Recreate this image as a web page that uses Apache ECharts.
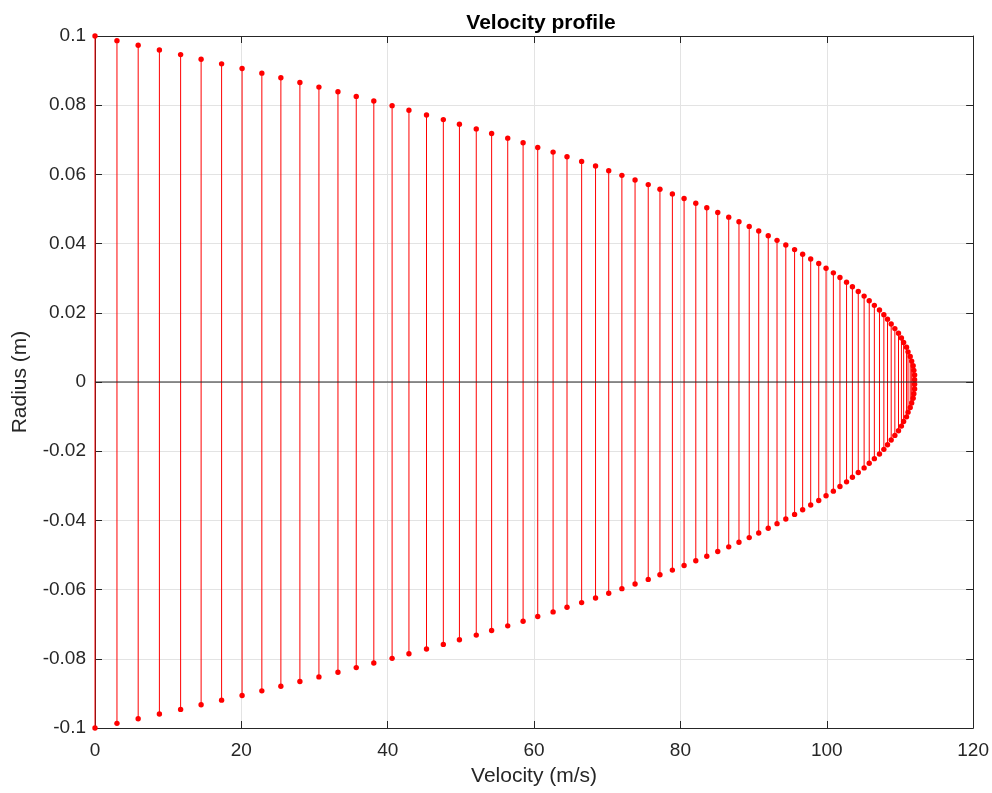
<!DOCTYPE html>
<html>
<head>
<meta charset="utf-8">
<script src="https://cdn.jsdelivr.net/npm/echarts@6/dist/echarts.min.js"></script>
<style>
html,body{margin:0;padding:0;background:#fff;}
#chart{width:992px;height:793px;}
</style>
</head>
<body>
<div id="chart"></div>
<script>
const radius = [0.1, 0.09866, 0.09732, 0.09597, 0.09463, 0.09329, 0.09195, 0.0906, 0.08926, 0.08792, 0.08658, 0.08523, 0.08389, 0.08255, 0.08121, 0.07987, 0.07852, 0.07718, 0.07584, 0.0745, 0.07315, 0.07181, 0.07047, 0.06913, 0.06779, 0.06644, 0.0651, 0.06376, 0.06242, 0.06107, 0.05973, 0.05839, 0.05705, 0.0557, 0.05436, 0.05302, 0.05168, 0.05034, 0.04899, 0.04765, 0.04631, 0.04497, 0.04362, 0.04228, 0.04094, 0.0396, 0.03826, 0.03691, 0.03557, 0.03423, 0.03289, 0.03154, 0.0302, 0.02886, 0.02752, 0.02617, 0.02483, 0.02349, 0.02215, 0.02081, 0.01946, 0.01812, 0.01678, 0.01544, 0.01409, 0.01275, 0.01141, 0.01007, 0.00872, 0.00738, 0.00604, 0.0047, 0.00336, 0.00201, 0.00067,
 -0.00067, -0.00201, -0.00336, -0.0047, -0.00604, -0.00738, -0.00872, -0.01007, -0.01141, -0.01275, -0.01409, -0.01544, -0.01678, -0.01812, -0.01946, -0.02081, -0.02215, -0.02349, -0.02483, -0.02617, -0.02752, -0.02886, -0.0302, -0.03154, -0.03289, -0.03423, -0.03557, -0.03691, -0.03826, -0.0396, -0.04094, -0.04228, -0.04362, -0.04497, -0.04631, -0.04765, -0.04899, -0.05034, -0.05168, -0.05302, -0.05436, -0.0557, -0.05705, -0.05839, -0.05973, -0.06107, -0.06242, -0.06376, -0.0651, -0.06644, -0.06779, -0.06913, -0.07047, -0.07181, -0.07315, -0.0745, -0.07584, -0.07718, -0.07852, -0.07987, -0.08121, -0.08255, -0.08389, -0.08523, -0.08658, -0.08792, -0.08926, -0.0906, -0.09195, -0.09329, -0.09463, -0.09597, -0.09732, -0.09866, -0.1];

const velocity = [0, 3.0, 5.9, 8.8, 11.7, 14.5, 17.3, 20.1, 22.8, 25.4, 28.0, 30.6, 33.2, 35.7, 38.1, 40.6, 42.9, 45.3, 47.6, 49.8, 52.1, 54.2, 56.4, 58.5, 60.5, 62.6, 64.5, 66.5, 68.4, 70.2, 72.0, 73.8, 75.6, 77.2, 78.9, 80.5, 82.1, 83.6, 85.1, 86.6, 88.0, 89.4, 90.7, 92.0, 93.2, 94.4, 95.6, 96.7, 97.8, 98.9, 99.9, 100.9, 101.8, 102.7, 103.5, 104.3, 105.1, 105.8, 106.5, 107.2, 107.8, 108.3, 108.8, 109.3, 109.8, 110.2, 110.5, 110.9, 111.1, 111.4, 111.6, 111.8, 111.9, 112.0, 112.0,
 112.0, 112.0, 111.9, 111.8, 111.6, 111.4, 111.1, 110.9, 110.5, 110.2, 109.8, 109.3, 108.8, 108.3, 107.8, 107.2, 106.5, 105.8, 105.1, 104.3, 103.5, 102.7, 101.8, 100.9, 99.9, 98.9, 97.8, 96.7, 95.6, 94.4, 93.2, 92.0, 90.7, 89.4, 88.0, 86.6, 85.1, 83.6, 82.1, 80.5, 78.9, 77.2, 75.6, 73.8, 72.0, 70.2, 68.4, 66.5, 64.5, 62.6, 60.5, 58.5, 56.4, 54.2, 52.1, 49.8, 47.6, 45.3, 42.9, 40.6, 38.1, 35.7, 33.2, 30.6, 28.0, 25.4, 22.8, 20.1, 17.3, 14.5, 11.7, 8.8, 5.9, 3.0, 0];

const xTicks = [0, 20, 40, 60, 80, 100, 120];
const yTicks = [-0.1, -0.08, -0.06, -0.04, -0.02, 0, 0.02, 0.04, 0.06, 0.08, 0.1];
const titleText = 'Velocity profile';
const xName = 'Velocity (m/s)';
const yName = 'Radius (m)';

const FONT = 'Liberation Sans, Helvetica, Arial, sans-serif';
const AX = '#262626';
const GRIDC = '#e3e3e3';

const stemData = velocity.map((v, i) => [v, radius[i]]);

const chart = echarts.init(document.getElementById('chart'), null, {renderer: 'canvas'});

const baseX = {
  type: 'value', min: xTicks[0], max: xTicks[xTicks.length - 1], interval: 20
};
const baseY = {
  type: 'value', min: yTicks[0], max: yTicks[yTicks.length - 1], interval: 0.02
};

chart.setOption({
  animation: false,
  backgroundColor: '#ffffff',
  title: {
    text: titleText, left: 536, top: 8, textAlign: 'center',
    textStyle: {fontFamily: FONT, fontSize: 21, fontWeight: 'bold', color: '#000'}
  },
  grid: {left: 95, right: 17, top: 36, bottom: 65, show: false},
  xAxis: [
    Object.assign({}, baseX, {
      position: 'bottom',
      name: xName, nameLocation: 'middle', nameGap: 38,
      nameTextStyle: {fontFamily: FONT, fontSize: 21, color: AX},
      axisLine: {show: true, onZero: false, lineStyle: {color: AX, width: 1}},
      axisTick: {show: true, inside: true, length: 7, lineStyle: {color: AX}},
      axisLabel: {fontFamily: FONT, fontSize: 19, color: AX, margin: 13},
      splitLine: {show: true, lineStyle: {color: GRIDC, width: 1}}
    }),
    Object.assign({}, baseX, {
      position: 'top',
      axisLine: {show: true, onZero: false, lineStyle: {color: AX, width: 1}},
      axisTick: {show: true, inside: true, length: 7, lineStyle: {color: AX}},
      axisLabel: {show: false},
      splitLine: {show: false}
    })
  ],
  yAxis: [
    Object.assign({}, baseY, {
      position: 'left',
      name: yName, nameLocation: 'middle', nameGap: 64, nameRotate: 90,
      nameTextStyle: {fontFamily: FONT, fontSize: 21, color: AX},
      axisLine: {show: true, onZero: false, lineStyle: {color: AX, width: 1}},
      axisTick: {show: true, inside: true, length: 7, lineStyle: {color: AX}},
      axisLabel: {fontFamily: FONT, fontSize: 19, color: AX, margin: 9},
      splitLine: {show: true, lineStyle: {color: GRIDC, width: 1}}
    }),
    Object.assign({}, baseY, {
      position: 'right',
      axisLine: {show: true, onZero: false, lineStyle: {color: AX, width: 1}},
      axisTick: {show: true, inside: true, length: 7, lineStyle: {color: AX}},
      axisLabel: {show: false},
      splitLine: {show: false}
    })
  ],
  series: [
    {
      type: 'custom',
      xAxisIndex: 0, yAxisIndex: 0,
      data: stemData,
      z: 3,
      renderItem: function (params, api) {
        const v = api.value(0), r = api.value(1);
        const p0 = api.coord([v, 0]);
        const p1 = api.coord([v, r]);
        return {
          type: 'group',
          children: [
            {type: 'line', shape: {x1: p0[0], y1: p0[1], x2: p1[0], y2: p1[1]},
             style: {stroke: '#ff0000', lineWidth: 1}},
            {type: 'circle', shape: {cx: p1[0], cy: p1[1], r: 2.7},
             style: {fill: '#ff0000'}}
          ]
        };
      }
    },
    {
      type: 'line',
      xAxisIndex: 0, yAxisIndex: 0,
      data: [[xTicks[0], 0], [xTicks[xTicks.length - 1], 0]],
      symbol: 'none',
      z: 4,
      lineStyle: {color: AX, width: 1.2},
      silent: true
    }
  ]
});
</script>
</body>
</html>
